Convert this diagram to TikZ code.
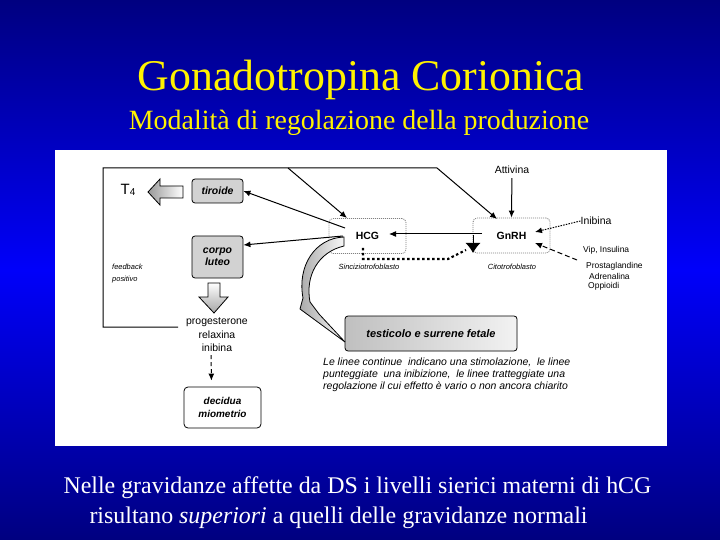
\documentclass[tikz,border=0pt]{standalone}
\usepackage{fontspec}
\setmainfont{Liberation Serif}
\newfontfamily\arial{Liberation Sans}
\usetikzlibrary{arrows.meta}
\definecolor{navyblue}{RGB}{0,0,128}
\definecolor{brightblue}{RGB}{0,0,250}

\begin{document}
\begin{tikzpicture}[x=1bp, y=-1bp,
    organ/.style={draw, line width=0.8bp, rounded corners=3bp, fill=gray!35, inner sep=0pt, align=center,
        font=\arial\bfseries\itshape\fontsize{10.5}{12}\selectfont},
    cell/.style={draw=gray, dash pattern=on 1bp off 1bp, line width=0.8bp, rounded corners=4bp, fill=white,
        inner sep=0pt, minimum width=77bp, minimum height=35bp, font=\arial\bfseries\fontsize{10.5}{12}\selectfont},
    lbl/.style={inner sep=0pt, align=center, font=\arial\fontsize{10.5}{13.5}\selectfont},
    smalltxt/.style={inner sep=0pt, align=left, font=\arial\itshape\fontsize{7.5}{12}\selectfont},
    arr/.style={-{Latex[length=7bp,width=6bp]}, line width=1bp},
    inhib/.style={line width=2.2bp, dash pattern=on 2.5bp off 2.5bp},
    block/.style={draw, line width=0.8bp}]
                % \helpgrid{3}{3}
                \useasboundingbox (0,0) rectangle (720,540);
                \shade[top color=navyblue, bottom color=brightblue] (0,0) rectangle (720,270);
                \shade[top color=brightblue, bottom color=navyblue] (0,270) rectangle (720,540);

                \node[anchor=base, text=yellow, font=\fontsize{44}{48}\selectfont] (title) at (361,91) {Gonadotropina Corionica};
                \node[anchor=base, text=yellow, font=\fontsize{28}{32}\selectfont] (subtitle) at (359,130) {Modalità di regolazione della produzione};

                \fill[white] (55,150) rectangle (667,446);

                \node[organ, minimum width=51bp, minimum height=24bp] (tiroide) at (217.5,191) {tiroide};
                \node[organ, minimum width=51bp, minimum height=42bp] (corpo) at (217.5,257) {corpo\\luteo};
                \node[cell] (hcg) at (367.5,236) {HCG};
                \node[cell] (gnrh) at (511.5,235.5) {GnRH};
                \node[organ, left color=gray!50, right color=gray!10, minimum width=172bp, minimum height=35bp,
                    font=\arial\bfseries\itshape\fontsize{11}{12}\selectfont] (test) at (431,333.5) {testicolo e surrene fetale};
                \node[organ, fill=white, rounded corners=4bp, minimum width=77bp, minimum height=41bp,
                    font=\arial\bfseries\itshape\fontsize{10}{13}\selectfont] (dec) at (222.5,407.5) {decidua\\miometrio};

                \node[inner sep=0pt, font=\arial\fontsize{15}{15}\selectfont] (t4) at (128,190) {T\raisebox{-1bp}{\fontsize{10}{10}\selectfont 4}};
                \node[lbl] (prog) at (217,335) {progesterone\\relaxina\\inibina};
                \node[lbl] (att) at (512,170) {Attivina};
                \node[lbl] (inib) at (596,221) {Inibina};
                \node[lbl, anchor=west, font=\arial\fontsize{8.5}{10}\selectfont] (vip) at (583,250) {Vip, Insulina};
                \node[lbl, anchor=west, font=\arial\fontsize{8.5}{10}\selectfont] (prost) at (586,266) {Prostaglandine};
                \node[lbl, anchor=west, font=\arial\fontsize{8.5}{10}\selectfont] (adr) at (589,276) {Adrenalina};
                \node[lbl, anchor=west, font=\arial\fontsize{8.5}{10}\selectfont] (opp) at (588,286) {Oppioidi};
                \node[smalltxt, anchor=west] (fb) at (112,274) {feedback\\positivo};
                \node[smalltxt] (sinc) at (369,267) {Sinciziotrofoblasto};
                \node[smalltxt] (cito) at (512,267) {Citotrofoblasto};
                \node[smalltxt, anchor=north west, font=\arial\itshape\fontsize{10.5}{11.8}\selectfont] (legend) at (323,358)
                    {Le linee continue~ indicano una stimolazione,~ le linee\\
                     punteggiate~ una inibizione,~ le linee tratteggiate una\\
                     regolazione il cui effetto è vario o non ancora chiarito};

                \coordinate (hcgT) at (345,228);
                \coordinate (hcgC) at (343,236);
                \coordinate (hcgTop) at (347,218);
                \coordinate (hcgR) at (389,234);
                \coordinate (hcgB) at (363,248);
                \coordinate (gnL) at (482,234);
                \coordinate (gnTop) at (497,219);
                \coordinate (gnD1) at (473,235);
                \coordinate (gnD2) at (473,253);
                \coordinate (gnI) at (535,232);
                \coordinate (gnV) at (535,243);
                \coordinate (vipS) at (577,260);
                \coordinate (dtA) at (448,259);
                \coordinate (dtB) at (466,250);
                \coordinate (fbA) at (178,327);
                \coordinate (fbC) at (103,168);
                \coordinate (fbD) at (437,168);
                \coordinate (fbE) at (288,168);
                \coordinate (testTip) at (345,342);

                % curved arrow to testicolo
                \shade[block, left color=gray!70, right color=gray!5]
                    (344,237) .. controls (315,238) and (297,266) .. (303,298)
                    -- (300,309) -- (testTip) -- (319,314) -- (310,302)
                    .. controls (305,276) and (318,252) .. (344,246) -- cycle;

                \shade[block, left color=gray!80, right color=white]
                    (183,186) -- (160,186) -- (160,179) -- (148,192) -- (160,205) -- (160,198) -- (183,198) -- cycle;
                \shade[block, top color=white, bottom color=gray!70]
                    (208,283) -- (220,283) -- (220,297) -- (228,297) -- (214,313) -- (199,297) -- (208,297) -- cycle;

                \draw[arr] (hcgT) -- (tiroide.east);
                \draw[arr] (hcgC) -- ([yshift=12bp]corpo.east);
                \draw[arr] (fbA) -| (fbC) -- (fbD) -- (gnTop);
                \draw[arr] (fbE) -- (hcgTop);
                \draw[arr, shorten <=4bp] (att) -- (gnrh.north);
                \draw[arr] (gnL) -- (hcgR);
                \draw[-{Latex[length=10bp,width=15bp]}, line width=1bp] (gnD1) -- (gnD2);
                \draw[inhib] (hcgB) |- (dtA) -- (dtB);
                \draw[arr, dash pattern=on 1.5bp off 1.2bp] (inib.west) -- (gnI);
                \draw[arr, dash pattern=on 5bp off 3bp] (vipS) -- (gnV);
                \draw[arr, dash pattern=on 4bp off 3bp, shorten <=3bp, shorten >=6bp] ([xshift=-6bp]prog.south) -- ([xshift=-11bp]dec.north);

                \node[anchor=base west, text=white, font=\fontsize{24}{28}\selectfont] (line1) at (60,493)
                    {Nelle gravidanze affette da DS i livelli sierici materni di hCG};
                \node[anchor=base west, text=white, font=\fontsize{24}{28}\selectfont] (line2) at (86,523)
                    {risultano \textit{superiori} a quelli delle gravidanze normali};

            \end{tikzpicture}
\end{document}
